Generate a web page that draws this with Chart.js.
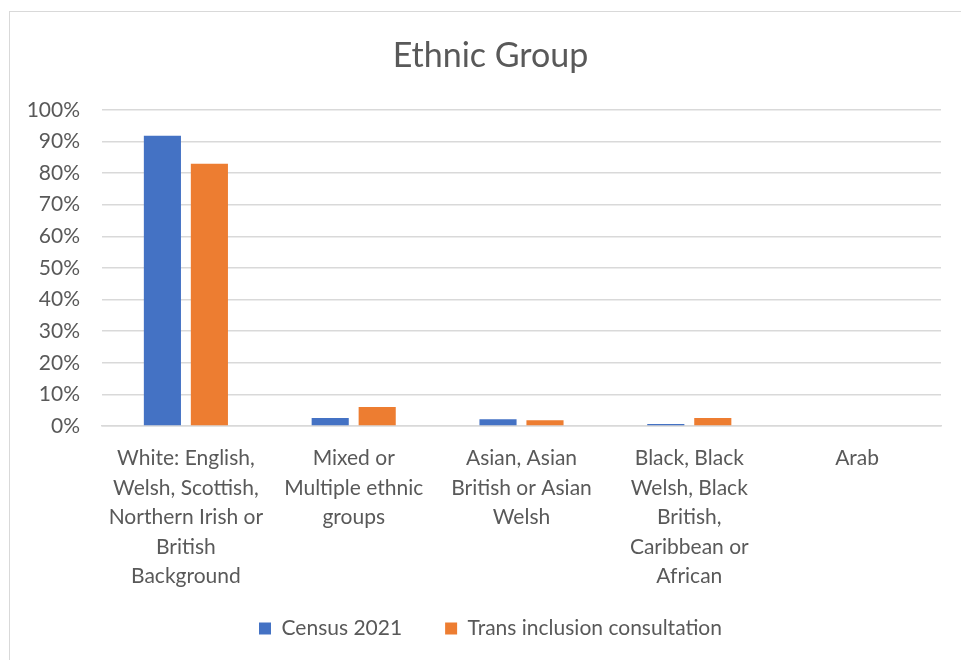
<!DOCTYPE html>
<html>
<head>
<meta charset="utf-8">
<script src="https://cdn.jsdelivr.net/npm/chart.js@4/dist/chart.umd.min.js"></script>
<style>
    html, body { margin: 0; padding: 0; background: #ffffff; }
    .chart-frame {
        position: absolute;
        left: 9px;
        top: 11px;
        width: 980px;
        height: 700px;
        border: 1px solid #d9d9d9;
    }
    .chart-wrap {
        position: absolute;
        left: 0;
        top: 0;
        width: 961px;
        height: 660px;
    }
</style>
</head>
<body>
<div class="chart-frame"></div>
<div class="chart-wrap"><canvas id="ethnicChart" width="961" height="660"></canvas></div>
<script>
const categories = [
    ["White: English,", "Welsh, Scottish,", "Northern Irish or", "British", "Background"],
    ["Mixed or", "Multiple ethnic", "groups"],
    ["Asian, Asian", "British or Asian", "Welsh"],
    ["Black, Black", "Welsh, Black", "British,", "Caribbean or", "African"],
    ["Arab"]
];
const census2021 = [91.8, 2.5, 2.1, 0.6, 0];
const consultation = [82.9, 6.0, 1.8, 2.5, 0];
const yTicks = [0, 10, 20, 30, 40, 50, 60, 70, 80, 90, 100];

const textColor = "#595959";
const gridColor = "#d9d9d9";
const fontFamily = "Lato, 'Open Sans', sans-serif";

new Chart(document.getElementById("ethnicChart"), {
    type: "bar",
    data: {
        labels: categories,
        datasets: [
            {
                label: "Census 2021",
                data: census2021,
                backgroundColor: "#4472c4",
                categoryPercentage: 0.56,
                barPercentage: 0.79
            },
            {
                label: "Trans inclusion consultation",
                data: consultation,
                backgroundColor: "#ed7d31",
                categoryPercentage: 0.56,
                barPercentage: 0.79
            }
        ]
    },
    options: {
        responsive: false,
        animation: false,
        layout: {
            padding: { left: 20, right: 0, top: 0, bottom: 11 }
        },
        plugins: {
            title: {
                display: true,
                text: "Ethnic Group",
                color: textColor,
                font: { family: fontFamily, size: 34, weight: "normal" },
                padding: { top: 36, bottom: 33 }
            },
            legend: {
                position: "bottom",
                labels: {
                    color: textColor,
                    font: { family: fontFamily, size: 21 },
                    boxWidth: 12,
                    boxHeight: 12,
                    padding: 22,
                    // wider gap between the two entries than the vertical padding gives
                    generateLabels: (chart) => {
                        const items = Chart.defaults.plugins.legend.labels.generateLabels(chart);
                        items.forEach((item, i) => {
                            if (i < items.length - 1) item.text += "\u2002\u2002";
                        });
                        return items;
                    }
                }
            },
            tooltip: { enabled: false }
        },
        scales: {
            x: {
                grid: { display: false, drawTicks: false },
                border: { color: gridColor, width: 1.5 },
                ticks: {
                    color: textColor,
                    font: { family: fontFamily, size: 21, lineHeight: 1.4 },
                    maxRotation: 0,
                    autoSkip: false,
                    padding: 18
                },
                afterFit: (scale) => { scale.height = 170; }
            },
            y: {
                min: 0,
                max: 100,
                afterBuildTicks: (scale) => {
                    scale.ticks = yTicks.map((v) => ({ value: v }));
                },
                grid: { color: gridColor, lineWidth: 1.5, drawTicks: false },
                border: { display: false },
                ticks: {
                    color: textColor,
                    font: { family: fontFamily, size: 21 },
                    padding: 22,
                    callback: (value) => `${value}%`
                },
                afterFit: (scale) => { scale.width = 82; }
            },
            // empty right-hand margin so the plot ends short of the frame
            yRight: {
                position: "right",
                grid: { display: false, drawTicks: false },
                border: { display: false },
                ticks: { display: false },
                afterFit: (scale) => { scale.width = 20; }
            }
        }
    }
});
</script>
</body>
</html>
